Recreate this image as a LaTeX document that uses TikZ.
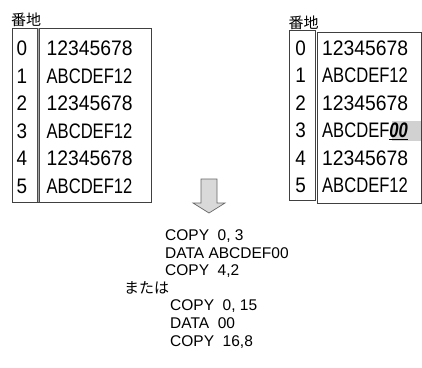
\documentclass[tikz,border=0pt]{standalone}
\usepackage{fontspec}
\setmainfont{Liberation Sans}
\newfontfamily\jpfont{Noto Sans CJK JP}
\begin{document}
\begin{tikzpicture}[x=1pt,y=-1pt,
  boxline/.style={draw=black!75,line width=0.9pt},
  cell/.style={inner sep=0pt,font=\fontsize{21}{21}\selectfont,xscale=0.9},
  code/.style={inner sep=0pt,anchor=base west,font=\fontsize{15.5}{15.5}\selectfont},
  jp/.style={inner sep=0pt,anchor=base west,font=\fontsize{15}{15}\jpfont}]
\useasboundingbox (0,0) rectangle (422,367);
% left table
\node[jp] (lh) at (11,25.5) {番地};
\draw[boxline] (12,28) rectangle (151,202);
\draw[draw=black!70,line width=0.9pt,double=black!35,double distance=0.8pt] (38.5,28) -- (38.5,202);
\foreach \i/\t/\s [count=\k from 0] in {0/12345678/0.92,1/ABCDEF12/0.79,2/12345678/0.92,3/ABCDEF12/0.79,4/12345678/0.92,5/ABCDEF12/0.79}{
  \node[cell,anchor=base] (li\k) at (22,{55.5+27.6*\k}) {\i};
  \node[cell,anchor=base west,xscale=\s/0.9] (ld\k) at (46.5,{55.5+27.6*\k}) {\t};
}
% right table
\node[jp] (rh) at (288.5,28) {番地};
\draw[boxline] (289,30) rectangle (315,200);
\draw[boxline] (317,32) -- (317,203) -- (421.5,203) -- (421.5,32) -- cycle;
\fill[black!18] (391.5,121) rectangle (421,141);
\foreach \i/\t/\s [count=\k from 0] in {0/12345678/0.92,1/ABCDEF12/0.79,2/12345678/0.92,3/{ABCDEF\underline{\bfseries\itshape 00}}/0.79,4/12345678/0.92,5/ABCDEF12/0.79}{
  \node[cell,anchor=base] (ri\k) at (300.5,{55.5+27.4*\k}) {\i};
  \node[cell,anchor=base west,xscale=\s/0.9] (rd\k) at (322,{55.5+27.4*\k}) {\t};
}
% arrow
\draw[fill=black!15,draw=black!60,line width=0.7pt,line join=miter]
  (201,179) -- (217,179) -- (217,203) -- (225,203) -- (209,213) -- (193,203) -- (201,203) -- cycle;
% code
\node[code] (c1) at (165,240.5) {COPY\ \ 0, 3};
\node[code] (c2) at (165,258) {DATA ABCDEF00};
\node[code] (c3) at (165,275.5) {COPY\ \ 4,2};
\node[jp] (or) at (124,293.5) {または};
\node[code] (c4) at (170,310.5) {COPY\ \ 0, 15};
\node[code] (c5) at (170,328) {DATA\ \ 00};
\node[code] (c6) at (170,346) {COPY\ \ 16,8};
\end{tikzpicture}
\end{document}
